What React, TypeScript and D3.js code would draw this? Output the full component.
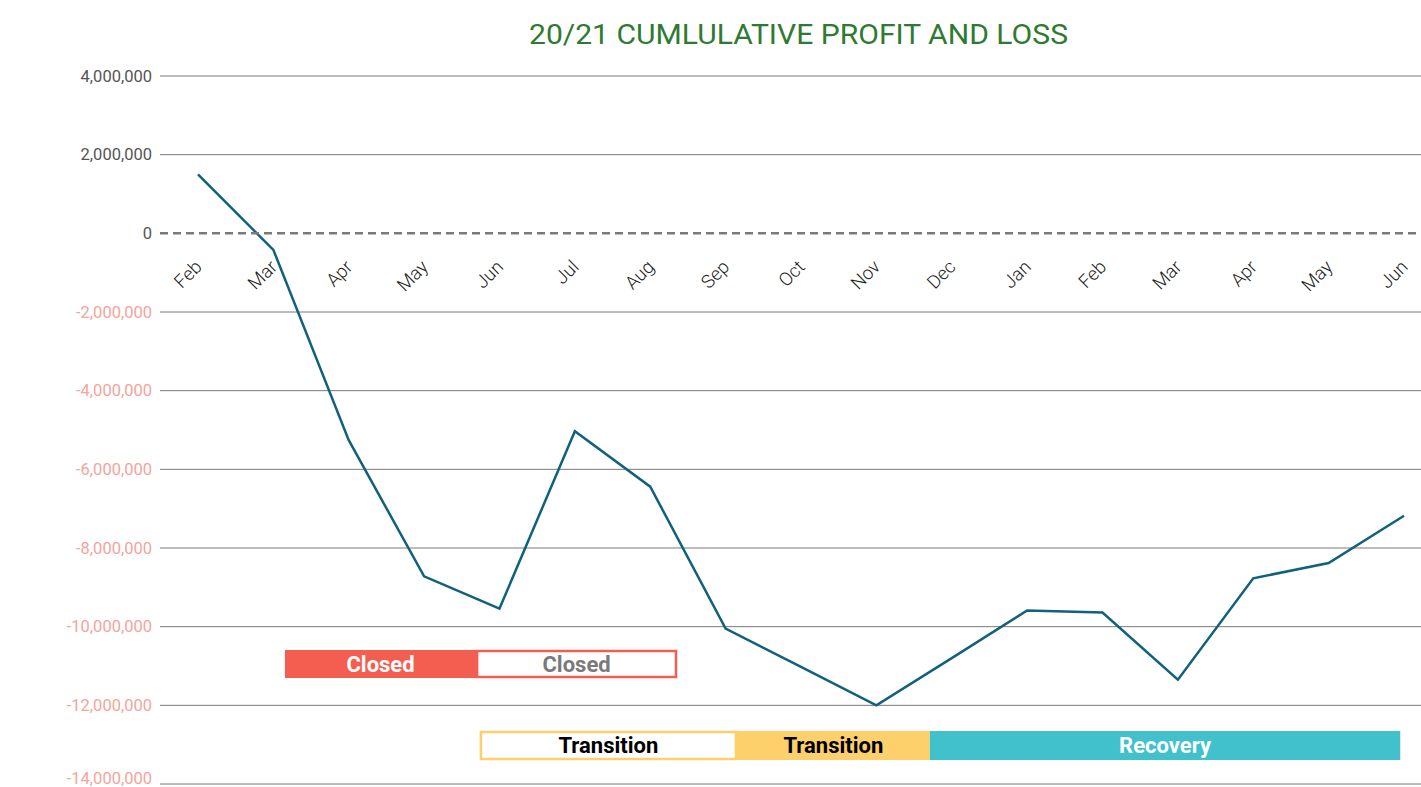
import React, { useEffect } from "react";
import * as d3 from "d3";

const months = ["Feb", "Mar", "Apr", "May", "Jun", "Jul", "Aug", "Sep", "Oct", "Nov", "Dec", "Jan", "Feb", "Mar", "Apr", "May", "Jun"];
const cumulative = [1500000, -420000, -5260000, -8720000, -9540000, -5030000, -6440000, -10050000, -11020000, -12000000, -10800000, -9590000, -9640000, -11350000, -8770000, -8380000, -7180000];
const yTicks = [4000000, 2000000, 0, -2000000, -4000000, -6000000, -8000000, -10000000, -12000000, -14000000];

// phase bands, in month-index units (0 = first Feb)
const phaseLabels = ["Closed", "Closed", "Transition", "Transition", "Recovery"];
const phaseStart = [1.154, 3.69, 3.74, 7.15, 9.71];
const phaseEnd = [3.69, 6.355, 7.15, 9.71, 15.95];
const phaseRow = [0, 0, 1, 1, 1];
const phaseFilled = [true, false, false, true, true];
const phaseColor = ["#F45E51", "#F45E51", "#FDD06B", "#FDD06B", "#40C1CB"];
const phaseTextColor = ["#FFFFFF", "#7a7a7a", "#000000", "#000000", "#FFFFFF"];

const W = 1421;
const H = 787;

export default function App() {
  useEffect(() => {
    document.body.style.margin = "0";
  }, []);

  const gridLeft = 160;
  const x = d3.scalePoint<number>().domain(d3.range(months.length)).range([160.3, 1441.7]).padding(0.5);
  const step = x.step();
  const xIdx = d3.scaleLinear().domain([0, 1]).range([x(0)!, x(0)! + step]);
  const y = d3.scaleLinear().domain([4000000, -14000000]).range([76, 784]);

  const line = d3
    .line<number>()
    .x((_, i) => x(i)!)
    .y((d) => y(d));

  const fmtBase = d3.format(",");
  const fmt = (v: number) => fmtBase(v).replace("\u2212", "-");
  const rowY = [650, 731];
  const rowH = [28, 29];

  return (
    <svg width={W} height={H} style={{ display: "block", background: "#fff" }} fontFamily="Roboto, 'Noto Sans', sans-serif">
      <text
        x={798.5}
        y={44}
        textAnchor="middle"
        fontSize={28}
        fill="#2f7a32"
        fontFamily="Roboto"
        textLength={539}
        lengthAdjust="spacingAndGlyphs"
      >
        20/21 CUMLULATIVE PROFIT AND LOSS
      </text>

      {yTicks.map((t) => (
        <g key={t}>
          {t !== 0 && <line x1={gridLeft} x2={W} y1={y(t)} y2={y(t)} stroke="#7a7a7a" strokeWidth={1} />}
          <text
            x={152}
            y={Math.min(y(t), 778)}
            dy="0.35em"
            textAnchor="end"
            fontSize={16.5}
            fontWeight={400}
            fill={t < 0 ? "#F6A39B" : "#555555"}
          >
            {fmt(t)}
          </text>
        </g>
      ))}

      {months.map((m, i) => (
        <text
          key={i}
          transform={`translate(${x(i)! + 5},${268}) rotate(-45)`}
          textAnchor="end"
          fontSize={18.5}
          fontWeight={300}
          fill="#222"
        >
          {m}
        </text>
      ))}

      <path d={line(cumulative)!} fill="none" stroke="#11607C" strokeWidth={2.5} strokeLinejoin="miter" />

      <line x1={gridLeft} x2={W} y1={y(0)} y2={y(0)} stroke="#7a7a7a" strokeWidth={2.5} strokeDasharray="8 5" />

      {phaseLabels.map((lab, i) => {
        const x0 = xIdx(phaseStart[i]);
        const x1 = xIdx(phaseEnd[i]);
        const r = phaseRow[i];
        const top = rowY[r];
        const h = rowH[r];
        return (
          <g key={i}>
            {phaseFilled[i] ? (
              <rect x={x0} y={top} width={x1 - x0} height={h} fill={phaseColor[i]} />
            ) : (
              <rect x={x0 + 1} y={top + 1} width={x1 - x0 - 2} height={h - 2} fill="#fff" stroke={phaseColor[i]} strokeWidth={2.5} />
            )}
            <text
              x={(x0 + x1) / 2}
              y={top + h / 2}
              dy="0.36em"
              textAnchor="middle"
              fontSize={22}
              fontWeight={700}
              fill={phaseTextColor[i]}
            >
              {lab}
            </text>
          </g>
        );
      })}
    </svg>
  );
}
